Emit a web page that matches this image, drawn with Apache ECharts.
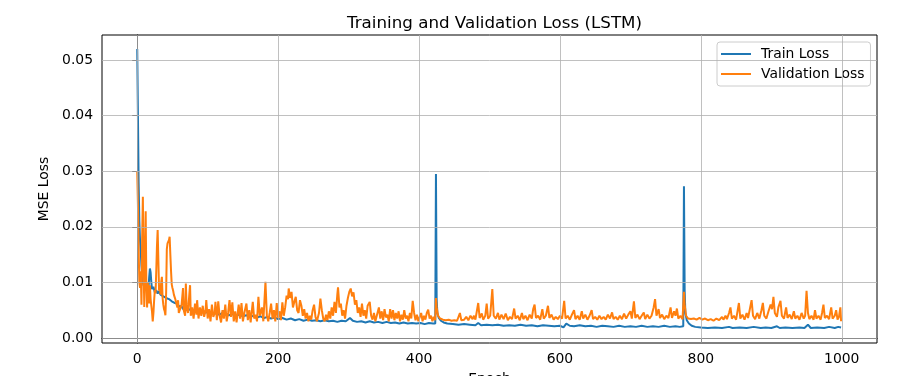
<!DOCTYPE html>
<html>
<head>
<meta charset="utf-8">
<script src="https://cdn.jsdelivr.net/npm/echarts@6/dist/echarts.min.js"></script>
<style>html,body{margin:0;padding:0;background:#fff;}#c{width:899px;height:376px;}</style>
</head>
<body>
<div id="c"></div>
<script>
const xTicks = [0, 200, 400, 600, 800, 1000];
const yTicks = [0, 0.01, 0.02, 0.03, 0.04, 0.05];

const trainEpochs = [0,1,2,3,4,5,6,7,8,9,10,12,14,16,17,18,19,20,21,23,25,27,29,31,33,35,37,39,41,43,45,47,49,51,53,55,57,59,61,63,65,68,71,74,77,80,83,86,89,92,95,98,101,104,108,112,116,120,123,126,130,135,140,145,150,155,160,165,170,175,180,185,190,195,200,206,212,218,224,230,236,242,248,254,260,266,272,278,284,290,296,302,306,312,318,324,330,336,342,348,354,360,366,372,378,384,390,396,402,408,414,420,423,424,425,426,428,431,435,440,448,456,464,472,480,484,488,496,504,512,520,528,536,544,552,560,568,576,584,592,600,605,609,614,620,628,636,644,652,660,668,676,684,692,700,708,716,724,732,740,748,756,764,770,775,776,777,778,780,783,787,792,800,810,820,830,840,845,855,865,875,885,892,900,908,912,920,930,940,947,952,956,965,975,982,990,995,999];
const trainLoss = [0.052,0.040,0.028,0.021,0.0175,0.0155,0.0130,0.0115,0.0100,0.0095,0.0092,0.0088,0.0085,0.0090,0.0110,0.0125,0.0118,0.0100,0.0088,0.0092,0.0082,0.0086,0.0080,0.0084,0.0078,0.0081,0.0075,0.0078,0.0072,0.0074,0.0070,0.0072,0.0066,0.0068,0.0063,0.0060,0.0062,0.0057,0.0055,0.0057,0.0052,0.0054,0.0050,0.0052,0.0048,0.0050,0.0047,0.0049,0.0046,0.0048,0.0045,0.0047,0.0044,0.0046,0.0043,0.0045,0.0042,0.0044,0.0049,0.0043,0.0041,0.0043,0.0040,0.0042,0.0039,0.0041,0.0038,0.0040,0.0037,0.0039,0.0036,0.0038,0.0035,0.0037,0.0034,0.0036,0.0033,0.0035,0.0032,0.0034,0.0031,0.0033,0.0031,0.0032,0.0030,0.0032,0.0030,0.0031,0.0029,0.0031,0.0030,0.0036,0.0031,0.0029,0.0030,0.0028,0.0030,0.0028,0.0029,0.0027,0.0029,0.0027,0.0028,0.0026,0.0028,0.0026,0.0027,0.0026,0.0027,0.0025,0.0027,0.0026,0.0026,0.0295,0.0070,0.0045,0.0036,0.0031,0.0028,0.0026,0.0025,0.0024,0.0025,0.0024,0.0023,0.0027,0.0023,0.0024,0.0023,0.0024,0.0022,0.0023,0.0022,0.0024,0.0022,0.0023,0.0021,0.0023,0.0022,0.0021,0.0022,0.0019,0.0026,0.0022,0.0021,0.0023,0.0021,0.0022,0.0020,0.0022,0.0021,0.0020,0.0022,0.0020,0.0021,0.0020,0.0022,0.0020,0.0021,0.0020,0.0022,0.0020,0.0021,0.0020,0.0021,0.0273,0.0085,0.0045,0.0032,0.0026,0.0022,0.0020,0.0019,0.0018,0.0019,0.0018,0.0020,0.0018,0.0019,0.0018,0.0020,0.0018,0.0019,0.0018,0.0021,0.0018,0.0019,0.0018,0.0019,0.0018,0.0024,0.0018,0.0019,0.0018,0.0020,0.0018,0.0020,0.0019];

const valEpochs = [0,1,2,3,4,5,6,7,8,9,10,11,12,13,14,15,16,17,18,19,20,21,22,23,24,25,26,27,28,29,30,31,32,33,34,35,36,37,38,39,40,41,42,43,44,45,46,47,48,49,50,51,52,54,56,57,58,59,61,63,65,66,68,69,70,71,72,74,75,76,78,80,82,84,85,87,89,91,93,95,97,98,100,102,104,106,108,110,111,113,115,117,119,121,123,125,127,129,131,133,135,137,139,141,144,146,148,150,152,155,157,159,161,164,166,168,170,172,174,177,179,182,184,186,188,190,192,194,196,198,200,202,204,206,208,210,212,214,215,217,219,221,223,225,227,229,231,233,235,237,239,241,243,245,247,249,251,253,255,258,260,262,264,266,268,270,272,274,276,278,280,282,284,285,287,289,291,293,295,297,299,301,303,305,307,309,311,313,315,317,319,321,323,325,327,330,332,334,336,338,340,343,345,347,349,351,353,355,357,359,361,363,365,367,369,371,373,375,377,379,381,383,385,387,389,391,393,395,397,399,401,403,405,407,409,411,413,415,417,419,421,423,424,425,427,430,434,438,442,446,450,454,458,460,464,467,470,473,476,478,480,484,486,489,491,494,496,498,501,504,506,509,512,514,517,520,523,526,529,532,535,537,540,543,546,548,551,554,557,560,562,564,566,569,572,575,577,580,583,585,588,591,594,597,600,603,606,608,611,614,617,620,622,625,628,631,633,636,639,642,645,647,650,653,656,659,662,665,668,671,674,676,679,682,685,688,691,694,697,700,702,705,707,710,713,716,719,721,724,727,730,733,735,737,740,742,745,748,751,754,757,759,762,764,766,768,771,774,776,777,779,782,786,790,794,798,802,806,810,814,818,822,826,830,832,835,837,840,842,844,847,850,852,854,856,859,862,865,867,870,872,874,877,880,883,886,888,890,893,896,899,901,903,905,908,910,913,915,918,921,923,926,929,932,934,937,940,943,946,948,950,952,954,957,960,962,964,967,970,972,974,976,979,982,985,987,990,992,994,996,998,999];
const valLoss = [0.0300,0.0240,0.0160,0.0100,0.0090,0.0120,0.0060,0.0180,0.0254,0.0130,0.0056,0.0150,0.0228,0.0090,0.0055,0.0100,0.0078,0.0062,0.0095,0.0070,0.0058,0.0047,0.0030,0.0045,0.0068,0.0086,0.0080,0.0120,0.0165,0.0194,0.0140,0.0085,0.0095,0.0078,0.0100,0.0110,0.0072,0.0060,0.0052,0.0048,0.0041,0.0080,0.0160,0.0170,0.0168,0.0176,0.0182,0.0150,0.0120,0.0096,0.0090,0.0085,0.0078,0.0070,0.0060,0.0055,0.0068,0.0045,0.0044,0.0060,0.0090,0.0050,0.0040,0.0098,0.0060,0.0050,0.0045,0.0080,0.0095,0.0040,0.0055,0.0035,0.0062,0.0042,0.0068,0.0035,0.0055,0.0040,0.0058,0.0038,0.0050,0.0068,0.0035,0.0052,0.0030,0.0060,0.0038,0.0045,0.0065,0.0032,0.0066,0.0040,0.0028,0.0050,0.0035,0.0060,0.0030,0.0045,0.0068,0.0038,0.0064,0.0030,0.0048,0.0028,0.0060,0.0035,0.0063,0.0030,0.0045,0.0062,0.0032,0.0050,0.0028,0.0065,0.0035,0.0042,0.0030,0.0074,0.0040,0.0055,0.0030,0.0101,0.0040,0.0030,0.0045,0.0062,0.0035,0.0050,0.0030,0.0063,0.0036,0.0048,0.0032,0.0064,0.0040,0.0055,0.0076,0.0070,0.0089,0.0072,0.0083,0.0055,0.0065,0.0074,0.0050,0.0045,0.0068,0.0058,0.0040,0.0052,0.0035,0.0045,0.0030,0.0040,0.0033,0.0050,0.0060,0.0038,0.0030,0.0045,0.0071,0.0050,0.0035,0.0030,0.0042,0.0032,0.0048,0.0035,0.0055,0.0040,0.0065,0.0045,0.0078,0.0091,0.0055,0.0062,0.0040,0.0050,0.0035,0.0058,0.0072,0.0083,0.0089,0.0075,0.0082,0.0060,0.0068,0.0045,0.0055,0.0038,0.0062,0.0040,0.0050,0.0035,0.0058,0.0065,0.0040,0.0033,0.0045,0.0030,0.0040,0.0055,0.0035,0.0048,0.0032,0.0052,0.0037,0.0042,0.0030,0.0052,0.0035,0.0050,0.0032,0.0045,0.0035,0.0048,0.0030,0.0042,0.0033,0.0050,0.0035,0.0040,0.0030,0.0045,0.0035,0.0067,0.0045,0.0032,0.0042,0.0030,0.0038,0.0045,0.0030,0.0040,0.0033,0.0045,0.0051,0.0035,0.0040,0.0030,0.0038,0.0032,0.0072,0.0055,0.0040,0.0035,0.0033,0.0032,0.0033,0.0031,0.0032,0.0031,0.0045,0.0032,0.0033,0.0038,0.0032,0.0040,0.0034,0.0040,0.0033,0.0063,0.0036,0.0044,0.0033,0.0040,0.0062,0.0035,0.0040,0.0088,0.0040,0.0035,0.0045,0.0033,0.0042,0.0034,0.0044,0.0032,0.0038,0.0034,0.0053,0.0035,0.0040,0.0032,0.0045,0.0034,0.0040,0.0032,0.0042,0.0035,0.0052,0.0060,0.0036,0.0040,0.0033,0.0052,0.0035,0.0040,0.0058,0.0036,0.0042,0.0033,0.0038,0.0034,0.0040,0.0035,0.0067,0.0035,0.0040,0.0033,0.0042,0.0050,0.0034,0.0040,0.0033,0.0048,0.0035,0.0042,0.0033,0.0040,0.0050,0.0034,0.0038,0.0033,0.0040,0.0034,0.0038,0.0033,0.0042,0.0035,0.0046,0.0034,0.0038,0.0033,0.0040,0.0034,0.0044,0.0035,0.0042,0.0048,0.0035,0.0066,0.0036,0.0042,0.0034,0.0040,0.0046,0.0034,0.0042,0.0035,0.0040,0.0055,0.0070,0.0040,0.0052,0.0036,0.0042,0.0034,0.0040,0.0036,0.0055,0.0036,0.0048,0.0040,0.0053,0.0035,0.0040,0.0034,0.0083,0.0060,0.0040,0.0035,0.0034,0.0035,0.0033,0.0036,0.0033,0.0035,0.0032,0.0034,0.0031,0.0035,0.0032,0.0038,0.0033,0.0040,0.0034,0.0045,0.0055,0.0035,0.0040,0.0033,0.0048,0.0063,0.0035,0.0042,0.0033,0.0045,0.0036,0.0055,0.0068,0.0040,0.0034,0.0045,0.0035,0.0050,0.0063,0.0040,0.0035,0.0048,0.0060,0.0052,0.0074,0.0045,0.0038,0.0055,0.0067,0.0040,0.0035,0.0055,0.0036,0.0042,0.0034,0.0048,0.0035,0.0040,0.0033,0.0045,0.0035,0.0040,0.0085,0.0045,0.0034,0.0040,0.0033,0.0050,0.0035,0.0040,0.0033,0.0045,0.0060,0.0036,0.0040,0.0034,0.0055,0.0035,0.0040,0.0050,0.0033,0.0038,0.0055,0.0030];

const zip = (xs, ys) => xs.map((x, i) => [x, ys[i]]);
const font = 'DejaVu Sans';
const chart = echarts.init(document.getElementById('c'), null, {renderer: 'canvas'});
chart.setOption({
  animation: false,
  backgroundColor: '#fff',
  title: {
    text: 'Training and Validation Loss (LSTM)',
    left: 489.5, textAlign: 'center', top: 10,
    textStyle: {fontFamily: font, fontSize: 16.7, fontWeight: 'normal', color: '#000'}
  },
  legend: {
    orient: 'vertical', left: 717, top: 42,
    data: [{name: 'Train Loss'}, {name: 'Validation Loss'}],
    icon: 'rect', itemWidth: 30, itemHeight: 2, itemGap: 6,
    padding: [5, 6, 5, 4],
    borderColor: '#cccccc', borderWidth: 1, borderRadius: 3,
    backgroundColor: 'rgba(255,255,255,0.8)',
    textStyle: {fontFamily: font, fontSize: 13.9, color: '#000', padding: [0, 0, 0, 5]}
  },
  grid: {
    left: 102, right: 22, top: 35, bottom: 33,
    outerBoundsMode: 'none', containLabel: false,
    show: true, borderColor: '#000', borderWidth: 1, backgroundColor: 'transparent'
  },
  xAxis: {
    type: 'value', min: -50, max: 1050,
    name: 'Epoch', nameLocation: 'middle', nameGap: 29,
    nameTextStyle: {fontFamily: font, fontSize: 13.9, color: '#000'},
    axisLine: {show: true, lineStyle: {color: '#000', width: 1}},
    axisTick: {show: true, length: 5, customValues: xTicks, lineStyle: {color: '#000'}},
    axisLabel: {customValues: xTicks, margin: 9, fontFamily: font, fontSize: 13.9, color: '#000',
      formatter: v => String(v)},
    splitLine: {show: false}
  },
  yAxis: {
    type: 'value', min: -0.0009, max: 0.0545,
    name: 'MSE Loss', nameLocation: 'middle', nameGap: 48, nameRotate: 90,
    nameTextStyle: {fontFamily: font, fontSize: 13.9, color: '#000'},
    axisLine: {show: true, lineStyle: {color: '#000', width: 1}},
    axisTick: {show: true, length: 5, customValues: yTicks, lineStyle: {color: '#000'}},
    axisLabel: {customValues: yTicks, margin: 9, fontFamily: font, fontSize: 13.9, color: '#000',
      formatter: v => v.toFixed(2)},
    splitLine: {show: false}
  },
  series: [
    {
      name: 'grid', type: 'line', data: [], z: 1, silent: true,
      markLine: {
        silent: true, symbol: ['none', 'none'], label: {show: false},
        lineStyle: {color: '#b0b0b0', width: 0.8, type: 'solid'},
        data: xTicks.map(v => ({xAxis: v})).concat(yTicks.map(v => ({yAxis: v})))
      }
    },
    {
      name: 'Train Loss', type: 'line', data: zip(trainEpochs, trainLoss), z: 3,
      showSymbol: false, symbol: 'none', color: '#1f77b4',
      lineStyle: {width: 2, color: '#1f77b4'}
    },
    {
      name: 'Validation Loss', type: 'line', data: zip(valEpochs, valLoss), z: 4,
      showSymbol: false, symbol: 'none', color: '#ff7f0e',
      lineStyle: {width: 2, color: '#ff7f0e'}
    }
  ]
});
</script>
</body>
</html>
